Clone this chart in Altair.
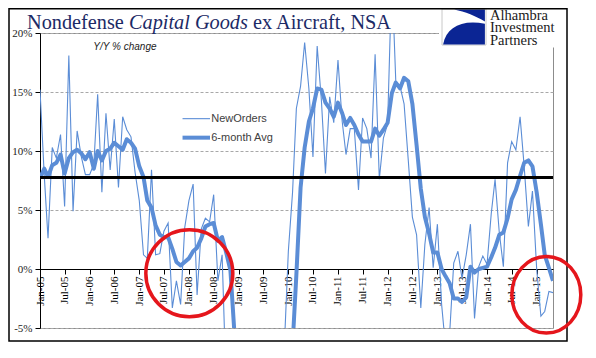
import altair as alt
import pandas as pd

# ---------------- data ----------------
months = pd.date_range("2005-01-01", periods=125, freq="MS").strftime("%Y/%m/%d").tolist()

new_orders = [
    15.2, 8.0, 2.6, 10.3, 9.4, 11.4, 5.3, 18.1, 4.9, 11.7, 9.5, 8.0,
    8.0, 8.9, 14.8, 6.5, 13.2, 8.4, 12.7, 6.9, 12.9, 11.8, 11.2, 8.2,
    5.8, 1.2, 0.9, 8.4, 1.2, 1.3, 3.2, 3.9, -3.3, -1.0, -3.0, 3.5,
    5.8, 7.2, -2.2, 3.4, 4.3, 4.0, 6.3, -1.0, 1.2, -10.0, -14.0, -20.0,
    -24.0, -27.0, -30.0, -31.0, -33.0, -32.0, -30.0, -27.0, -24.0, -20.0, -14.0, -7.0,
    1.5, 6.5, 13.6, 15.5, 19.2, 15.3, 9.5, 18.9, 14.3, 8.1, 14.6, 12.4,
    17.7, 12.5, 9.7, 11.9, 11.9, 6.7, 12.8, 11.9, 9.4, 18.2, 7.6, 11.1,
    12.3, 25.0, 15.9, 15.5, 14.0, 9.2, 4.4, 2.9, -3.3, 2.1, 5.2, 0.1,
    3.8, -3.0, -6.5, -5.5, 0.5, 1.5, -0.8, 1.2, 3.8, -4.2, 0.2, 1.1,
    0.4, 4.7, 7.6, 3.1, 0.2, 9.0, 10.8, 10.1, 12.9, 8.7, 3.6, 6.6,
    0.0, -4.0, -3.6, -1.9, -2.0,
]

avg_6m = [
    7.7, 8.5, 7.8, 8.8, 9.0, 9.7, 8.1, 9.4, 9.9, 10.1, 9.8, 9.3,
    9.9, 8.5, 10.0, 9.2, 10.0, 10.2, 10.7, 10.4, 10.1, 11.0, 10.7, 10.2,
    8.7, 7.8, 5.8, 5.2, 3.7, 2.9, 2.7, 2.7, 1.7, 0.6, 0.3, 0.6,
    0.9, 1.5, 1.8, 2.6, 3.6, 3.8, 3.9, 2.4, 2.7, 1.4, -0.1, -5.5,
    -10.0, -15.0, -19.0, -23.0, -26.0, -28.0, -29.0, -28.0, -26.0, -22.0, -18.0, -14.0,
    -10.0, -6.5, -0.5, 6.9, 10.3, 12.5, 13.6, 15.3, 15.2, 14.1, 13.6, 12.9,
    14.1, 13.2, 12.2, 12.8, 12.2, 11.4, 10.8, 10.8, 10.8, 11.9, 11.3, 11.8,
    12.4, 14.9, 15.8, 15.3, 16.2, 15.9, 14.0, 10.5, 6.8, 4.4, 3.0, 1.4,
    1.4, 0.0, -0.6, -1.2, -2.5, -2.5, -2.8, -2.4, 0.2, -0.3, 0.0, 0.1,
    0.2, 1.0, 1.8, 2.9, 3.1, 4.3, 5.9, 6.7, 7.9, 9.0, 9.2, 8.7,
    6.5, 3.8, 1.2, 0.1, -1.0,
]

ref_level = 7.75
y_ticks = [-5, 0, 5, 10, 15, 20]
series_names = ["NewOrders", "6-month Avg"]
legend_y = [12.74, 11.13]
legend_x1 = ["2007/11/15", "2007/11/15"]
legend_x2 = ["2008/06/04", "2008/06/04"]
legend_xt = ["2008/06/13", "2008/06/13"]

note_text = "Y/Y % change"
note_pos = ("2006/01/28", 18.84)

title_parts = ["Nondefense", "Capital Goods", "ex Aircraft, NSA"]
logo_lines = ["Alhambra", "Investment", "Partners"]

circle_dates = ["2008/01/04", "2015/03/13"]
circle_vals = [-0.36, -2.18]

# ---------------- styling ----------------
W, H = 513, 295
BLUE = "#5b8dd6"
RED = "#e5161c"
NAVY = "#1c2a66"
SERIF = "Liberation Serif"
SANS = "Liberation Sans"

long_df = pd.DataFrame({
    "date": months * 2,
    "value": new_orders + avg_6m,
    "series": ["NewOrders"] * len(months) + ["6-month Avg"] * len(months),
})

xs = alt.Scale(domain=[alt.DateTime(year=2005, month=1, date=1),
                       alt.DateTime(year=2015, month=5, date=1)], nice=False)
ys = alt.Scale(domain=[-5, 20], nice=False, zero=False)

xax = alt.Axis(format="%b-%y", tickCount={"interval": "month", "step": 6},
               labelAngle=-90, offset=-59, domainColor="black", tickColor="black",
               tickSize=5, labelFont=SERIF, labelFontSize=11, labelColor="black",
               grid=False, title=None, labelPadding=2, labelOverlap=False,
               labelFlush=False, domainWidth=1)
yax = alt.Axis(values=y_ticks, labelExpr="datum.value + '%'", tickSize=5,
               domainColor="black", tickColor="black", grid=True, gridDash=[3, 2],
               gridColor="#a8a8a8", labelFont=SERIF, labelFontSize=11,
               labelColor="#222222", title=None, labelPadding=3)

X = alt.X("date:T", scale=xs, axis=xax, title=None)
Y = alt.Y("value:Q", scale=ys, axis=yax, title=None)

thin = alt.Chart(long_df).transform_filter(alt.datum.series == "NewOrders").mark_line(
    color=BLUE, strokeWidth=1.1, clip=True).encode(x=X, y=Y)
thick = alt.Chart(long_df).transform_filter(alt.datum.series == "6-month Avg").mark_line(
    color=BLUE, strokeWidth=4, clip=True, strokeJoin="round").encode(x=X, y=Y)

ref = alt.Chart(pd.DataFrame({"value": [ref_level]})).mark_rule(
    color="black", strokeWidth=3).encode(y=Y)

leg_df = pd.DataFrame({"series": series_names, "value": legend_y,
                       "date": legend_x1, "date2": legend_x2, "datet": legend_xt})
leg_lines = alt.Chart(leg_df).mark_rule(color=BLUE).encode(
    x=X, x2="date2:T", y=Y,
    strokeWidth=alt.StrokeWidth("series:N", scale=alt.Scale(domain=series_names, range=[1.1, 4]), legend=None))
leg_text = alt.Chart(leg_df).mark_text(align="left", baseline="middle", font=SANS,
                                        fontSize=11, color="#404040").encode(
    x=alt.X("datet:T", scale=xs, axis=xax, title=None), y=Y, text="series:N")

note = alt.Chart(pd.DataFrame({"date": [note_pos[0]], "value": [note_pos[1]], "t": [note_text]})).mark_text(
    align="left", baseline="middle", font=SANS, fontSize=10, fontStyle="italic", color="#222222").encode(
    x=X, y=Y, text="t:N")

circ_df = pd.DataFrame({"date": circle_dates, "value": circle_vals})
circle1 = alt.Chart(circ_df.iloc[[0]]).mark_point(
    shape="circle", size=87 ** 2, filled=False, color=RED, strokeWidth=3.5, opacity=1).encode(x=X, y=Y)
ellipse_path = "M -0.9 0 A 0.9 1 0 1 0 0.9 0 A 0.9 1 0 1 0 -0.9 0 Z"
circle2 = alt.Chart(circ_df.iloc[[1]]).mark_point(
    shape=ellipse_path, size=76.6 ** 2, filled=False, color=RED, strokeWidth=3.5, opacity=1).encode(x=X, y=Y)

# title pieces (pixel positions relative to plot origin)
one = pd.DataFrame({"a": [0]})
TFS = 20.3
t1 = alt.Chart(one).mark_text(text=title_parts[0], x=-13, y=-4.5, align="left", baseline="alphabetic",
                              font=SERIF, fontSize=TFS, color=NAVY)
t2 = alt.Chart(one).mark_text(text=title_parts[1], x=89, y=-4.5, align="left", baseline="alphabetic",
                              font=SERIF, fontSize=TFS, fontStyle="italic", color=NAVY)
t3 = alt.Chart(one).mark_text(text=title_parts[2], x=213, y=-4.5, align="left", baseline="alphabetic",
                              font=SERIF, fontSize=TFS, color=NAVY)

# logo
logo_bg = alt.Chart(one).mark_rect(fill="white", x=399, x2=526, y=-23, y2=14.5)
logo_box = alt.Chart(one).mark_rect(fill="white", stroke="#c8c8c8", strokeWidth=1, x=402, x2=446, y=-24, y2=12)
logo_path = ("M -0.45 -0.8 L 0.95 -0.8 L 0.95 -0.25 C 0.55 -0.5 0.05 -0.7 -0.45 -0.8 Z "
             "M -0.95 0.8 C -0.8 0.0 -0.1 -0.35 0.95 -0.15 L 0.95 0.8 Z")
logo_shape = alt.Chart(one).mark_point(shape=logo_path, size=44 ** 2, filled=True, fill="#0b2594",
                                       opacity=1, x=424, y=-6)
logo_y = [-12.8, -0.6, 11.5]
logo_txt = [
    alt.Chart(one).mark_text(text=txt, x=450, y=yy, align="left", baseline="alphabetic",
                             font=SERIF, fontSize=14.5, color="#1a1a1a")
    for txt, yy in zip(logo_lines, logo_y)
]

frame = alt.Chart(one).mark_rect(fill=None, stroke="black", strokeWidth=1.5, x=-31, x2=527, y=-24.3, y2=308)

chart = alt.layer(
    thin, thick, ref, leg_lines, leg_text, note,
    logo_bg, logo_box, logo_shape, *logo_txt,
    t1, t2, t3, frame, circle1, circle2,
).properties(
    width=W, height=H,
    padding={"left": 32, "top": 25, "right": 32, "bottom": 15},
    autosize=alt.AutoSizeParams(type="none"),
    background="white",
).configure_view(stroke="#8c8c8c", strokeWidth=1)

chart.save("out.html", embed_options={"renderer": "svg", "actions": False})
